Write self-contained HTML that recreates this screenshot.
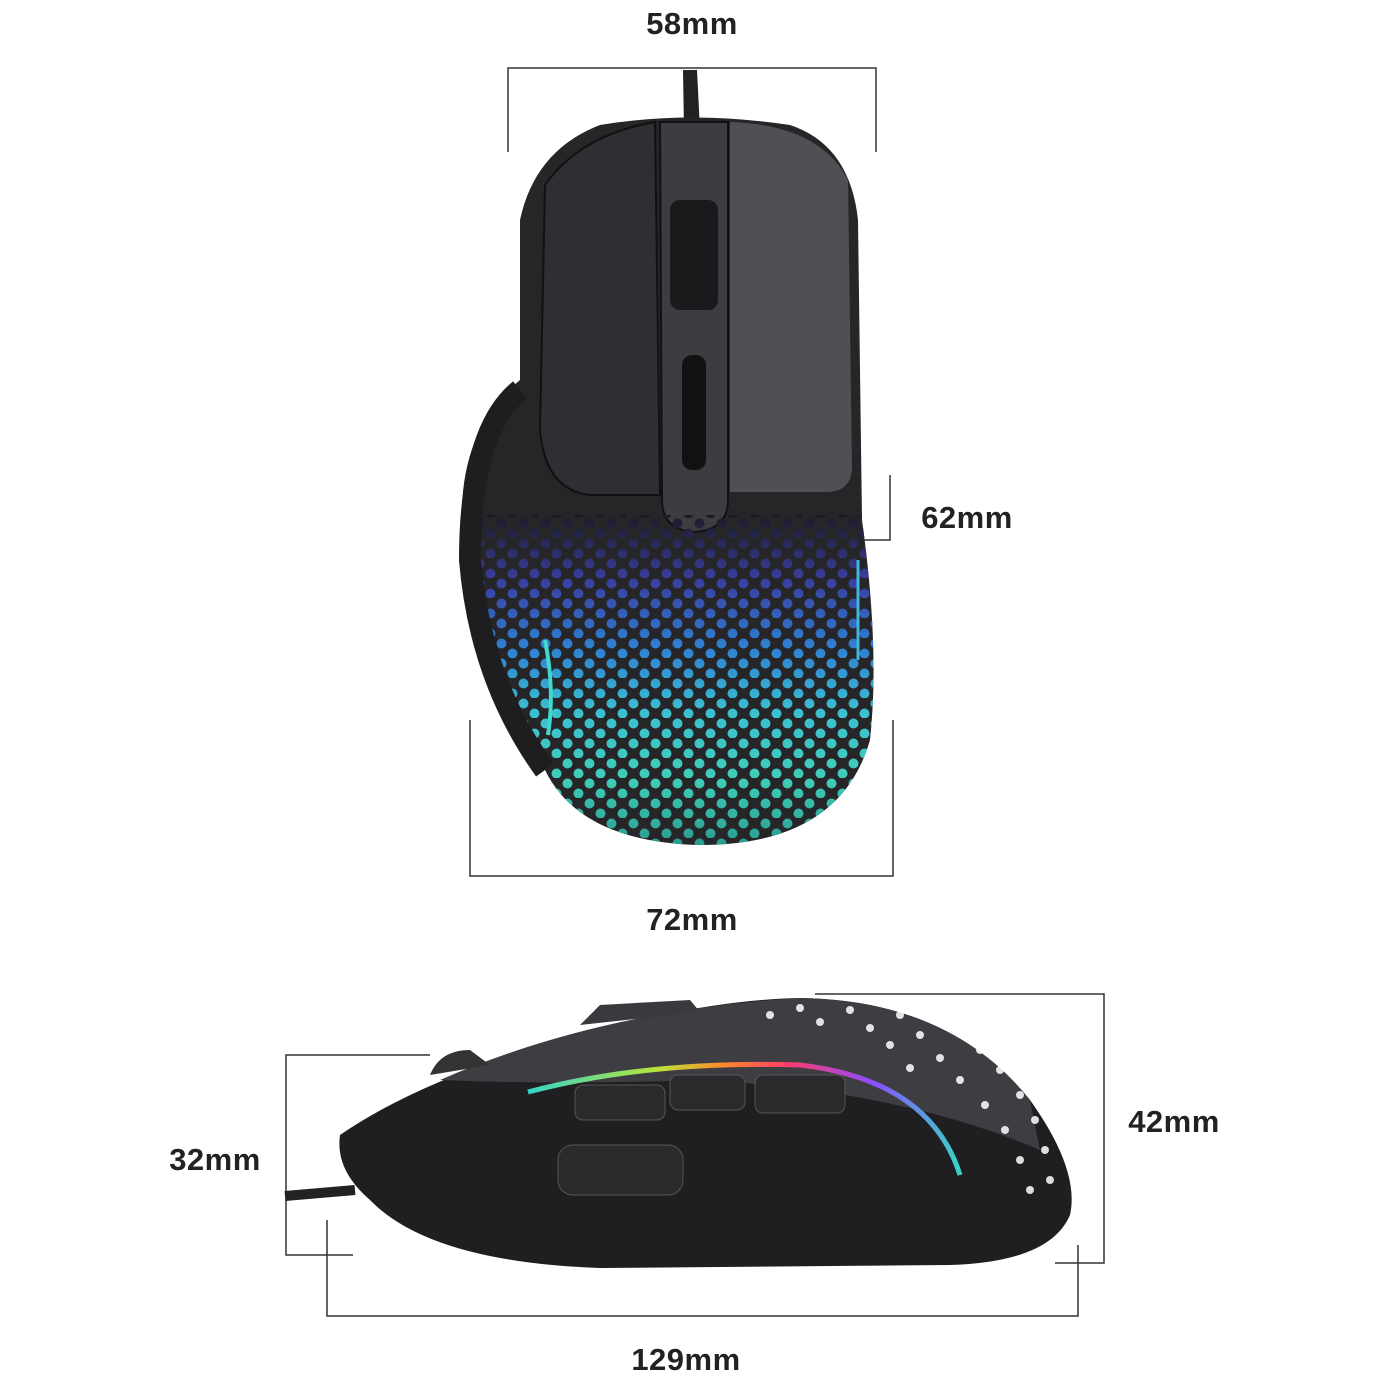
<!DOCTYPE html>
<html><head><style>
body{margin:0;background:#fff;width:1384px;height:1384px;overflow:hidden;position:relative;font-family:"Liberation Sans",sans-serif}
.t{position:absolute;font-weight:bold;font-size:31px;color:#222;transform:translate(-50%,-50%);white-space:nowrap;letter-spacing:0.5px}
svg{position:absolute;left:0;top:0}
</style></head><body>
<svg width="1384" height="1384" viewBox="0 0 1384 1384">
<defs>
<pattern id="dots" x="540" y="518" width="22" height="20" patternUnits="userSpaceOnUse">
<circle cx="5.5" cy="5.5" r="5" fill="#fff"/><circle cx="16.5" cy="15.5" r="5" fill="#fff"/>
</pattern>
<mask id="m1"><rect x="0" y="0" width="1384" height="1384" fill="url(#dots)"/></mask>
<linearGradient id="g1" x1="0" y1="0" x2="0" y2="1">
<stop offset="0" stop-color="#1b1b24"/><stop offset="0.2" stop-color="#3a3fa0"/><stop offset="0.4" stop-color="#2f7fd0"/><stop offset="0.6" stop-color="#3cc0d0"/><stop offset="0.8" stop-color="#40cdb8"/><stop offset="1" stop-color="#2a9c90"/>
</linearGradient>
<linearGradient id="rgb" x1="0" y1="0" x2="1" y2="0">
<stop offset="0" stop-color="#36d4c6"/><stop offset="0.3" stop-color="#b7e43a"/><stop offset="0.45" stop-color="#ff8a2a"/><stop offset="0.6" stop-color="#ff3b6b"/><stop offset="0.8" stop-color="#8a4dff"/><stop offset="1" stop-color="#36d4c6"/>
</linearGradient>
<clipPath id="c1"><path d="M600,125 Q690,110 790,125 Q850,145 858,220 L862,520 Q880,650 870,740 Q840,845 700,845 Q580,842 545,770 Q470,680 462,520 Q460,430 520,380 L520,220 Q535,150 600,125Z"/></clipPath>
</defs>
<g stroke="#333" stroke-width="1.5" fill="none">
<path d="M508,152 V68 H876 V152"/>
<path d="M520,540 H890 V475"/>
<path d="M470,720 V876 H893 V720"/>
<path d="M815,994 H1104 V1263 H1055"/>
<path d="M430,1055 H286 V1255 H353"/>
<path d="M327,1220 V1316 H1078 V1245"/>
</g>
<!-- top mouse -->
<path d="M683,70 L697,70 L700,130 L684,130Z" fill="#222"/>
<path d="M600,125 Q690,110 790,125 Q850,145 858,220 L862,520 Q880,650 870,740 Q840,845 700,845 Q580,842 545,770 Q470,680 462,520 Q460,430 520,380 L520,220 Q535,150 600,125Z" fill="#262628"/>
<path d="M730,122 Q820,125 848,180 L852,470 Q850,490 830,492 L730,492Z" fill="#505054"/>
<path d="M655,122 Q580,135 545,185 L540,430 Q545,490 590,495 L660,495Z" fill="#2f2f33" stroke="#111" stroke-width="2"/>
<path d="M660,122 L728,122 L728,500 Q728,530 694,532 Q662,530 662,500Z" fill="#3d3d41" stroke="#111" stroke-width="2"/>
<rect x="670" y="200" width="48" height="110" rx="10" fill="#1a1a1c"/>
<rect x="682" y="355" width="24" height="115" rx="10" fill="#111"/>
<g clip-path="url(#c1)"><rect x="440" y="515" width="440" height="330" fill="url(#g1)" mask="url(#m1)"/></g>
<path d="M520,390 Q470,430 470,560 Q480,680 545,770" stroke="#1e1e20" stroke-width="22" fill="none"/>
<path d="M545,640 Q555,690 548,735" stroke="#40d9d0" stroke-width="4" fill="none"/>
<path d="M858,560 L858,660" stroke="#40b7e0" stroke-width="3"/>
<!-- side mouse -->
<path d="M285,1196 L355,1190" stroke="#222" stroke-width="10"/>
<path d="M340,1135 Q420,1080 560,1040 Q700,1000 800,998 Q950,1000 1030,1100 Q1080,1170 1070,1215 Q1050,1262 950,1265 L600,1268 Q430,1262 370,1200 Q335,1170 340,1135Z" fill="#1f1f21"/>
<path d="M440,1080 Q600,1010 800,998 Q950,1000 1030,1100 L1040,1150 Q900,1090 700,1080 Q560,1085 440,1080Z" fill="#3e3e42"/>
<path d="M580,1025 L600,1005 L690,1000 L700,1012Z" fill="#3a3a3e"/>
<path d="M430,1075 Q440,1050 470,1050 L490,1065 Z" fill="#333"/>
<path d="M528,1092 Q650,1060 800,1065 Q930,1080 960,1175" stroke="url(#rgb)" stroke-width="5" fill="none"/>
<rect x="575" y="1085" width="90" height="35" rx="8" fill="#2a2a2c" stroke="#555"/>
<rect x="670" y="1075" width="75" height="35" rx="8" fill="#2a2a2c" stroke="#555"/>
<rect x="755" y="1075" width="90" height="38" rx="8" fill="#2a2a2c" stroke="#555"/>
<rect x="558" y="1145" width="125" height="50" rx="15" fill="#2a2a2c" stroke="#555"/>
<g fill="#fff" opacity="0.85">
<circle cx="960" cy="1030" r="4"/><circle cx="980" cy="1050" r="4"/><circle cx="1000" cy="1070" r="4"/><circle cx="1020" cy="1095" r="4"/><circle cx="1035" cy="1120" r="4"/><circle cx="1045" cy="1150" r="4"/><circle cx="1050" cy="1180" r="4"/>
<circle cx="900" cy="1015" r="4"/><circle cx="920" cy="1035" r="4"/><circle cx="940" cy="1058" r="4"/><circle cx="960" cy="1080" r="4"/><circle cx="985" cy="1105" r="4"/><circle cx="1005" cy="1130" r="4"/><circle cx="1020" cy="1160" r="4"/><circle cx="1030" cy="1190" r="4"/>
<circle cx="850" cy="1010" r="4"/><circle cx="870" cy="1028" r="4"/><circle cx="890" cy="1045" r="4"/><circle cx="910" cy="1068" r="4"/><circle cx="800" cy="1008" r="4"/><circle cx="820" cy="1022" r="4"/><circle cx="770" cy="1015" r="4"/>
</g>
</svg>
<div class="t" style="left:692px;top:24px">58mm</div>
<div class="t" style="left:967px;top:518px">62mm</div>
<div class="t" style="left:692px;top:920px">72mm</div>
<div class="t" style="left:1174px;top:1122px">42mm</div>
<div class="t" style="left:215px;top:1160px">32mm</div>
<div class="t" style="left:686px;top:1360px">129mm</div>
</body></html>
